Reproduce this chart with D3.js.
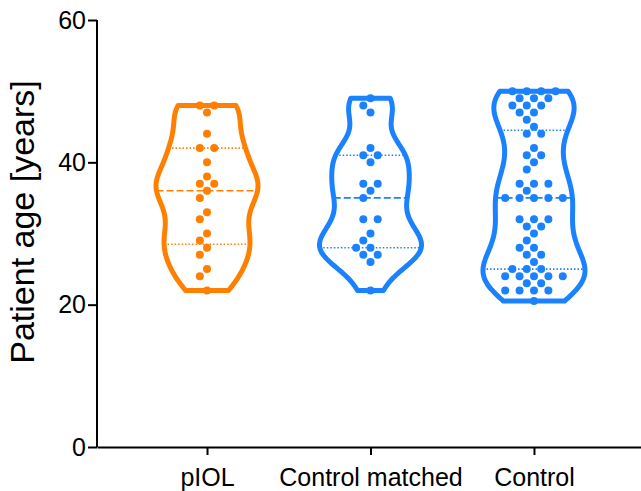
<!DOCTYPE html>
<html>
<head>
<meta charset="utf-8">
<script src="https://cdn.jsdelivr.net/npm/d3@7.9.0/dist/d3.min.js"></script>
<style>
  body { margin: 0; background: #fff; }
  svg { display: block; font-family: "Liberation Sans", Arial, sans-serif; }
</style>
</head>
<body>
<svg id="chart" width="641" height="491"></svg>
<script>
// groups and patient ages
const categories = ['pIOL', 'Control matched', 'Control'];
const pIOL = [48, 48, 47, 44, 42, 42, 40, 38, 37, 37, 36, 35, 33, 32, 30, 29, 28, 27, 25, 24, 22];
const controlMatched = [49, 48, 47, 42, 41, 41, 40, 37, 37, 36, 35, 32, 32, 30, 29, 28, 28, 27, 27, 26, 22];
const control = [50, 50, 50, 50, 49, 49, 49, 48, 48, 48, 47, 47, 46, 45, 44, 44, 42, 41, 41, 40, 39,
  37, 37, 37, 36, 35, 35, 35, 35, 35, 32, 32, 32, 31, 31, 30, 29, 28, 28, 27, 27, 26,
  25, 25, 25, 24, 24, 24, 24, 24, 23, 23, 22, 22, 22, 22, 20.5];
const yTicks = [0, 20, 40, 60];
const colors = ['#ff8000', '#1a82ff', '#1a82ff'];
// kde smoothing per violin
const bandwidths = [2.6, 2.6, 3.2];

const groups = [pIOL, controlMatched, control];

const svg = d3.select('#chart');
const plotLeft = 97, plotBottom = 447, plotTop = 20;

const y = d3.scaleLinear().domain([0, 60]).range([plotBottom, plotTop]);
const x = d3.scalePoint().domain(categories).range([plotLeft, 644]).padding(0.673);

// axes
const yAxis = svg.append('g')
  .attr('transform', `translate(${plotLeft},0)`)
  .call(d3.axisLeft(y).tickValues(yTicks).tickSize(9).tickSizeOuter(0).tickPadding(2));
const xAxis = svg.append('g')
  .attr('transform', `translate(0,${plotBottom})`)
  .call(d3.axisBottom(x).tickSize(8).tickSizeOuter(0).tickPadding(6));
[yAxis, xAxis].forEach(g => {
  g.selectAll('path, line').attr('stroke', '#000').attr('stroke-width', 2);
  g.selectAll('text').attr('fill', '#000').attr('font-size', 25);
});
yAxis.select('.domain').attr('d', `M0,${plotTop}V${plotBottom}`);
xAxis.selectAll('text').attr('dy', '1.0em');

svg.append('text')
  .attr('transform', `translate(34,222) rotate(-90)`)
  .attr('text-anchor', 'middle')
  .attr('font-size', 34)
  .text('Patient age [years]');

// quartiles the way prism does it, (n+1)p
function quart(vals, p) {
  const s = vals.slice().sort(d3.ascending);
  const pos = (s.length + 1) * p - 1;
  const lo = Math.floor(pos), hi = Math.ceil(pos);
  return s[lo] + (s[hi] - s[lo]) * (pos - lo);
}

const halfMax = 51;
function kde(vals, bw) {
  const [mn, mx] = d3.extent(vals);
  const steps = d3.range(mn, mx, 0.1).concat([mx]);
  return steps.map(v => ({
    v,
    d: d3.sum(vals, t => Math.exp(-0.5 * ((v - t) / bw) ** 2))
  }));
}

// beeswarm, rows of equal values spread, shifted half a step when they collide
const step = 7.2, dotR = 4;
function swarm(vals) {
  const rows = d3.rollups(vals, v => v.length, d => d).sort((a, b) => b[0] - a[0]);
  const placed = [];
  rows.forEach(([v, k]) => {
    const base = d3.range(k).map(i => (i - (k - 1) / 2) * step * 2);
    let best = null;
    [0, -step, step].forEach(s => {
      const row = base.map(b => b + s);
      let c = 0;
      row.forEach(dx => placed.forEach(p => {
        if (Math.hypot(dx - p.dx, y(v) - y(p.v)) < 2 * dotR) c++;
      }));
      if (best === null || c < best.c) best = { row, c };
    });
    best.row.forEach(dx => placed.push({ v, dx }));
  });
  return placed;
}

groups.forEach((vals, i) => {
  const cx = x(categories[i]);
  const col = colors[i];
  const dens = kde(vals, bandwidths[i]);
  const dmax = d3.max(dens, d => d.d);
  const w = d3.scaleLinear().domain([0, dmax]).range([0, halfMax]);
  const g = svg.append('g');

  const area = d3.area()
    .y(d => y(d.v))
    .x0(d => cx - w(d.d))
    .x1(d => cx + w(d.d))
    .curve(d3.curveBasis);
  g.append('path')
    .datum(dens)
    .attr('d', area)
    .attr('fill', 'none')
    .attr('stroke', col)
    .attr('stroke-width', 5)
    .attr('stroke-linejoin', 'round');

  const widthAt = v => {
    const j = d3.bisector(d => d.v).left(dens, v);
    return w(dens[Math.min(j, dens.length - 1)].d);
  };
  const stats = [
    { v: quart(vals, 0.5), dash: '7,3' },
    { v: quart(vals, 0.25), dash: '1.5,2' },
    { v: quart(vals, 0.75), dash: '1.5,2' }
  ];
  g.selectAll('line.stat')
    .data(stats)
    .join('line')
    .attr('class', 'stat')
    .attr('x1', d => cx - widthAt(d.v))
    .attr('x2', d => cx + widthAt(d.v))
    .attr('y1', d => y(d.v))
    .attr('y2', d => y(d.v))
    .attr('stroke', col)
    .attr('stroke-width', 1.6)
    .attr('stroke-dasharray', d => d.dash);

  g.selectAll('circle')
    .data(swarm(vals))
    .join('circle')
    .attr('cx', d => cx + d.dx)
    .attr('cy', d => y(d.v))
    .attr('r', dotR)
    .attr('fill', col);
});
</script>
</body>
</html>
